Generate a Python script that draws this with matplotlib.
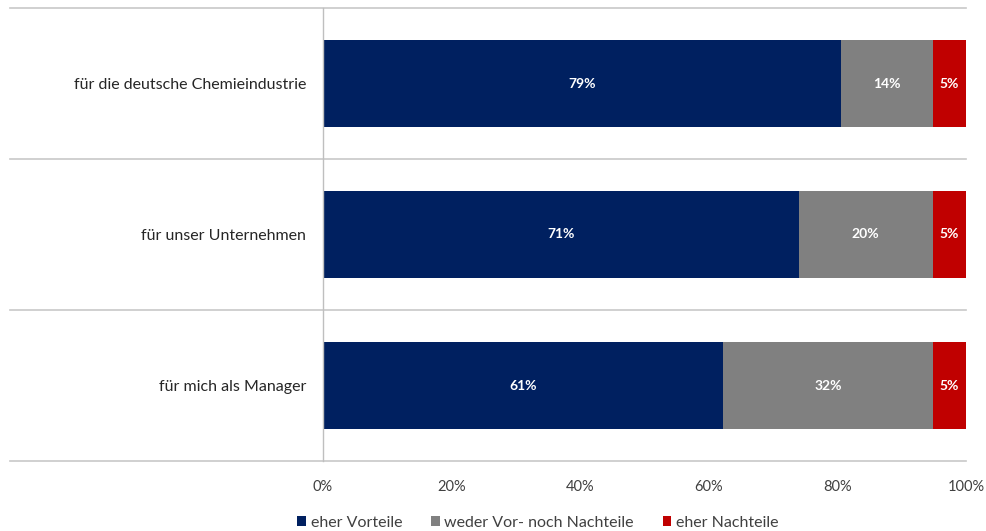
import matplotlib.pyplot as plt
from matplotlib.ticker import PercentFormatter

categories = ["für die deutsche Chemieindustrie", "für unser Unternehmen", "für mich als Manager"]
series_names = ["eher Vorteile", "weder Vor- noch Nachteile", "eher Nachteile"]
vorteile = [79, 71, 61]
neutral = [14, 20, 32]
nachteile = [5, 5, 5]
colors = ["#002060", "#808080", "#C00000"]

plt.rcParams["font.family"] = ["Lato", "DejaVu Sans"]

fig = plt.figure(figsize=(9.87, 5.31), dpi=100)
ax = fig.add_axes([323 / 987, 1 - 461 / 531, 643 / 987, 453 / 531])

# rows top to bottom, each bar scaled to 100 %
ypos = [2, 1, 0]
left = [0.0, 0.0, 0.0]
totals = [a + b + c for a, b, c in zip(vorteile, neutral, nachteile)]
for name, vals, col in zip(series_names, [vorteile, neutral, nachteile], colors):
    shares = [v / t for v, t in zip(vals, totals)]
    ax.barh(ypos, shares, left=left, height=0.58, color=col, label=name)
    for y, l, s, v in zip(ypos, left, shares, vals):
        ax.text(l + s / 2, y, f"{v}%", ha="center", va="center",
                color="white", fontsize=10, fontweight="bold")
    left = [l + s for l, s in zip(left, shares)]

ax.set_xlim(0, 1)
ax.set_ylim(-0.5, 2.5)
ax.xaxis.set_major_formatter(PercentFormatter(1.0, decimals=0))
ax.set_xticks([0, 0.2, 0.4, 0.6, 0.8, 1.0])
ax.tick_params(axis="x", length=0, pad=14, labelsize=10.5, colors="#404040")
ax.set_yticks(ypos)
ax.set_yticklabels(categories)
ax.tick_params(axis="y", length=0, pad=12, labelsize=11.5, colors="#262626")
for s in ["top", "right", "bottom"]:
    ax.spines[s].set_visible(False)
ax.spines["left"].set_color("#bfbfbf")
ax.spines["left"].set_linewidth(1)

# category separators reaching into the label area
for yb in [-0.5, 0.5, 1.5, 2.5]:
    ax.plot([-0.487, 1.0], [yb, yb], color="#c8c8c8", lw=1.2,
            clip_on=False, transform=ax.get_yaxis_transform(), zorder=0)

leg = fig.legend(loc="lower center", bbox_to_anchor=(0.545, -0.025), ncol=3,
                 frameon=False, fontsize=11.5, handlelength=0.55, handleheight=0.55,
                 handletextpad=0.3, columnspacing=1.8)
for t in leg.get_texts():
    t.set_color("#404040")

fig.savefig("out.png", dpi=100)
